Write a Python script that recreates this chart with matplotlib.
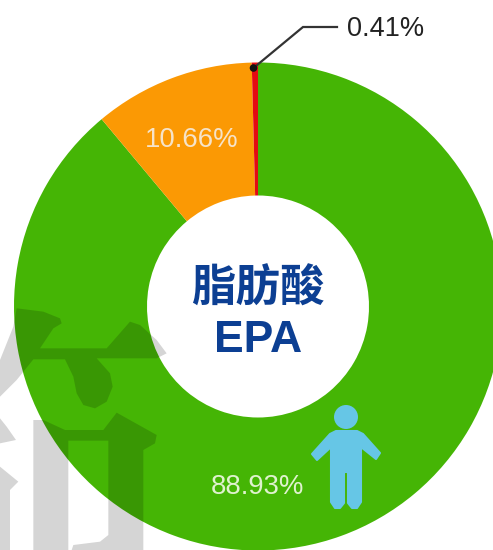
import matplotlib
matplotlib.use("Agg")
import matplotlib.pyplot as plt
from matplotlib.patches import Polygon, Circle

W, H = 493, 550
values = [88.93, 10.66, 0.41]
colors = ["#45b505", "#fb9904", "#e30a12"]
label_a = "0.41%"
label_b = "10.66%"
label_c = "88.93%"
title_cn = "脂肪酸"
title_en = "EPA"

fig = plt.figure(figsize=(W / 100, H / 100), dpi=100, facecolor="white")
ax = fig.add_axes([0, 0, 1, 1])


def Y(py):
    return H - py


cx, cy, R, r = 258, 306.5, 244, 111
ax.pie(values, colors=colors, startangle=90, counterclock=False,
       center=(cx, Y(cy)), radius=R,
       wedgeprops=dict(width=R - r, linewidth=0))
ax.set_xlim(0, W)
ax.set_ylim(0, H)
ax.set_aspect("equal")
ax.set_axis_off()


def zoomed(points):
    return [(x / 3, Y(y / 3 + 290)) for x, y in points]


marks = [
    [(50, 55), (130, 65), (180, 85), (185, 100), (160, 115), (120, 175), (320, 175),
     (390, 95), (420, 105), (470, 150), (500, 190), (470, 205), (290, 205), (330, 250),
     (338, 290), (320, 335), (285, 355), (250, 345), (230, 310), (220, 260), (195, 208),
     (100, 208), (50, 270), (0, 320), (0, 210), (40, 110)],
    [(100, 390), (130, 390), (195, 420), (310, 420), (350, 368), (470, 435), (465, 460),
     (430, 480), (430, 780), (215, 780), (220, 765), (300, 755), (325, 735), (325, 452),
     (205, 452), (205, 780), (100, 780)],
    [(0, 385), (20, 410), (48, 450), (0, 460)],
    [(0, 530), (55, 575), (30, 600), (30, 780), (0, 780)],
]
for m in marks:
    ax.add_patch(Polygon(zoomed(m), closed=True, facecolor="black", alpha=0.165,
                         edgecolor="none", zorder=3, joinstyle="round"))

# leader line to the smallest slice
ax.plot([253.5, 303, 337], [Y(68), Y(27), Y(27)], color="#333333", lw=1.6, zorder=5,
        solid_joinstyle="miter")
ax.add_patch(Circle((253.5, Y(68)), 3.8, facecolor="#111111", edgecolor="none", zorder=6))
ax.text(386, Y(29), label_a, ha="center", va="center", fontsize=19.5,
        family="Liberation Sans", color="#222222", zorder=7)

ax.text(191.5, Y(140), label_b, ha="center", va="center", fontsize=19.8,
        family="Liberation Sans", color="#f6e3c8", zorder=7)
ax.text(257, Y(487), label_c, ha="center", va="center", fontsize=19.8,
        family="Liberation Sans", color="#dff2cf", zorder=7)

navy = "#0c3f93"
ax.text(258, Y(289), title_cn, ha="center", va="center", fontsize=32,
        family="Noto Sans CJK SC", weight="bold", color=navy, zorder=7)
ax.text(258.5, Y(340), title_en, ha="center", va="center", fontsize=32,
        family="Liberation Sans", weight="bold", color=navy, zorder=7)

# person icon
blue = "#66c6e6"
ax.add_patch(Circle((346, Y(417)), 12, facecolor=blue, edgecolor="none", zorder=5))
body = [(336, 431), (357, 431), (363, 434), (380, 453), (376, 459), (361, 447),
        (361, 502), (357, 508), (352, 508), (348, 503), (348, 472), (344, 472), (344, 503),
        (340, 508), (335, 508), (331, 502), (331, 447), (317, 460), (312, 454), (330, 434)]
ax.add_patch(Polygon([(x, Y(y)) for x, y in body], closed=True, facecolor=blue,
                     edgecolor=blue, lw=1.5, joinstyle="round", zorder=5))

fig.savefig("out.png", dpi=100, facecolor="white")
